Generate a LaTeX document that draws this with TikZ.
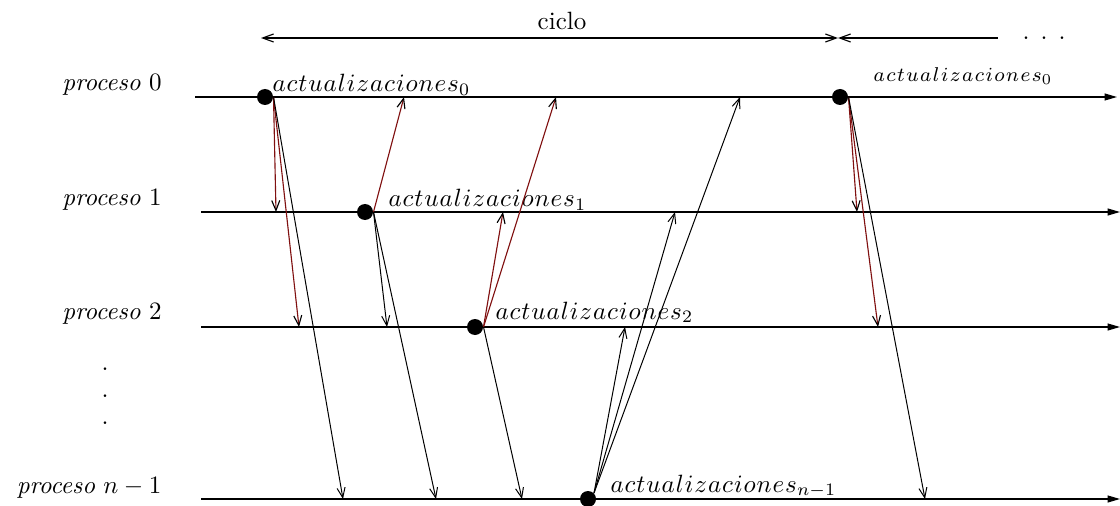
\documentclass[tikz,border=0pt]{standalone}
\usetikzlibrary{arrows.meta}
\definecolor{rojooscuro}{RGB}{128,16,16}
\begin{document}
\begin{tikzpicture}[x=0.4pt,y=-0.4pt]
	% Estilos
	\tikzstyle{eje}=[-{Triangle[length=5pt,width=2.8pt]},line width=0.45pt]
	\tikzstyle{mensaje}=[-{Straight Barb[length=4pt,width=3.2pt]},line width=0.4pt]
	\tikzstyle{mensajerojo}=[rojooscuro,-{Straight Barb[length=4pt,width=3.2pt,black]},line width=0.45pt]
	\tikzstyle{ciclofl}=[{Straight Barb[length=4.4pt,width=3.2pt]}-{Straight Barb[length=4.4pt,width=3.2pt]},line width=0.45pt]
	\tikzstyle{punto}=[circle,fill=black,inner sep=0pt,minimum size=6.4pt]
	\tikzstyle{proceso}=[anchor=base east,inner sep=0pt]
	\tikzstyle{actual}=[anchor=base west,inner sep=0pt]
	\def\Actu#1#2{$a#1c#1t#1u#1a#1l#1i#1z#1a#1c#1i#1o#1n#1e#1s_{#2}$}
	\useasboundingbox (0,0) rectangle (1120,506);
	% Procesos
	\node[proceso] (P0) at (162,91) {\textit{proceso} $0$};
	\node[proceso] (P1) at (162,206) {\textit{proceso} $1$};
	\node[proceso] (P2) at (162,320) {\textit{proceso} $2$};
	\node[proceso] (Pn) at (162,493) {\textit{proceso} $n-1$};
	\foreach \y/\n in {368/a,395/b,422/c}
		\node[anchor=base,inner sep=0pt] (v\n) at (105,\y+2) {.};
	% Lineas de tiempo
	\coordinate (L0a) at (195,97);  \coordinate (L0b) at (1117,97);
	\coordinate (L1a) at (201,212); \coordinate (L1b) at (1120,212);
	\coordinate (L2a) at (201,327); \coordinate (L2b) at (1120,327);
	\coordinate (Lna) at (201,499); \coordinate (Lnb) at (1120,499);
	\draw[eje] (L0a) -- (L0b);
	\draw[eje] (L1a) -- (L1b);
	\draw[eje] (L2a) -- (L2b);
	\draw[eje] (Lna) -- (Lnb);
	% Ciclo
	\coordinate (c0) at (261,38); \coordinate (c1) at (838,38); \coordinate (c2) at (998,38);
	\draw[ciclofl] (c0) -- (c1);
	\draw[{Straight Barb[length=4.4pt,width=3.2pt]}-,line width=0.45pt] (c1) -- (c2);
	\node[anchor=base,inner sep=0pt] (ciclo) at (562,30) {ciclo};
	\foreach \x/\n in {1026/a,1044/b,1062/c}
		\node[anchor=base,inner sep=0pt] (h\n) at (\x,40) {.};
	% Puntos
	\node[punto] (D0) at (265,97) {};
	\node[punto] (D1) at (365,212) {};
	\node[punto] (D2) at (475,327) {};
	\node[punto] (Dn) at (588,499) {};
	\node[punto] (E0) at (840,97) {};
	% Etiquetas
	\node[actual] (A0) at (272,92) {\Actu{\mkern0.7mu}{0}};
	\node[actual] (A1) at (388,207) {\Actu{\mkern0.7mu}{1}};
	\node[actual] (A2) at (495,319) {\Actu{\mkern0.7mu}{2}};
	\node[actual] (An) at (610,492) {\Actu{\mkern0.7mu}{n-1}};
	\node[actual] (B0) at (873,82) {\footnotesize\Actu{\mkern1.3mu}{0}};
	% Extremos de los mensajes
	\coordinate (m01) at (276,212); \coordinate (m02) at (299,327); \coordinate (m0n) at (343,499);
	\coordinate (m10) at (404,97);  \coordinate (m12) at (387,327); \coordinate (m1n) at (436,499);
	\coordinate (m21) at (503,212); \coordinate (m20) at (556,97);  \coordinate (m2n) at (522,499);
	\coordinate (mn2) at (625,327); \coordinate (mn1) at (675,212); \coordinate (mn0) at (740,97);
	\coordinate (e01) at (857,212); \coordinate (e02) at (878,327); \coordinate (e0n) at (925,499);
	% Mensajes
	\draw[mensajerojo] (D0.east) -- (m01);
	\draw[mensajerojo] (D0.east) -- (m02);
	\draw[mensaje] (D0.east) -- (m0n);
	\draw[mensajerojo] (D1.east) -- (m10);
	\draw[mensaje] (D1.east) -- (m12);
	\draw[mensaje] (D1.east) -- (m1n);
	\draw[mensajerojo] (D2.east) -- (m21);
	\draw[mensajerojo] (D2.east) -- (m20);
	\draw[mensaje] (D2.east) -- (m2n);
	\draw[mensaje] (Dn.north east) -- (mn2);
	\draw[mensaje] (Dn.north east) -- (mn1);
	\draw[mensaje] (Dn.north east) -- (mn0);
	\draw[mensajerojo] (E0.east) -- (e01);
	\draw[mensajerojo] (E0.east) -- (e02);
	\draw[mensaje] (E0.east) -- (e0n);
\end{tikzpicture}
\end{document}
